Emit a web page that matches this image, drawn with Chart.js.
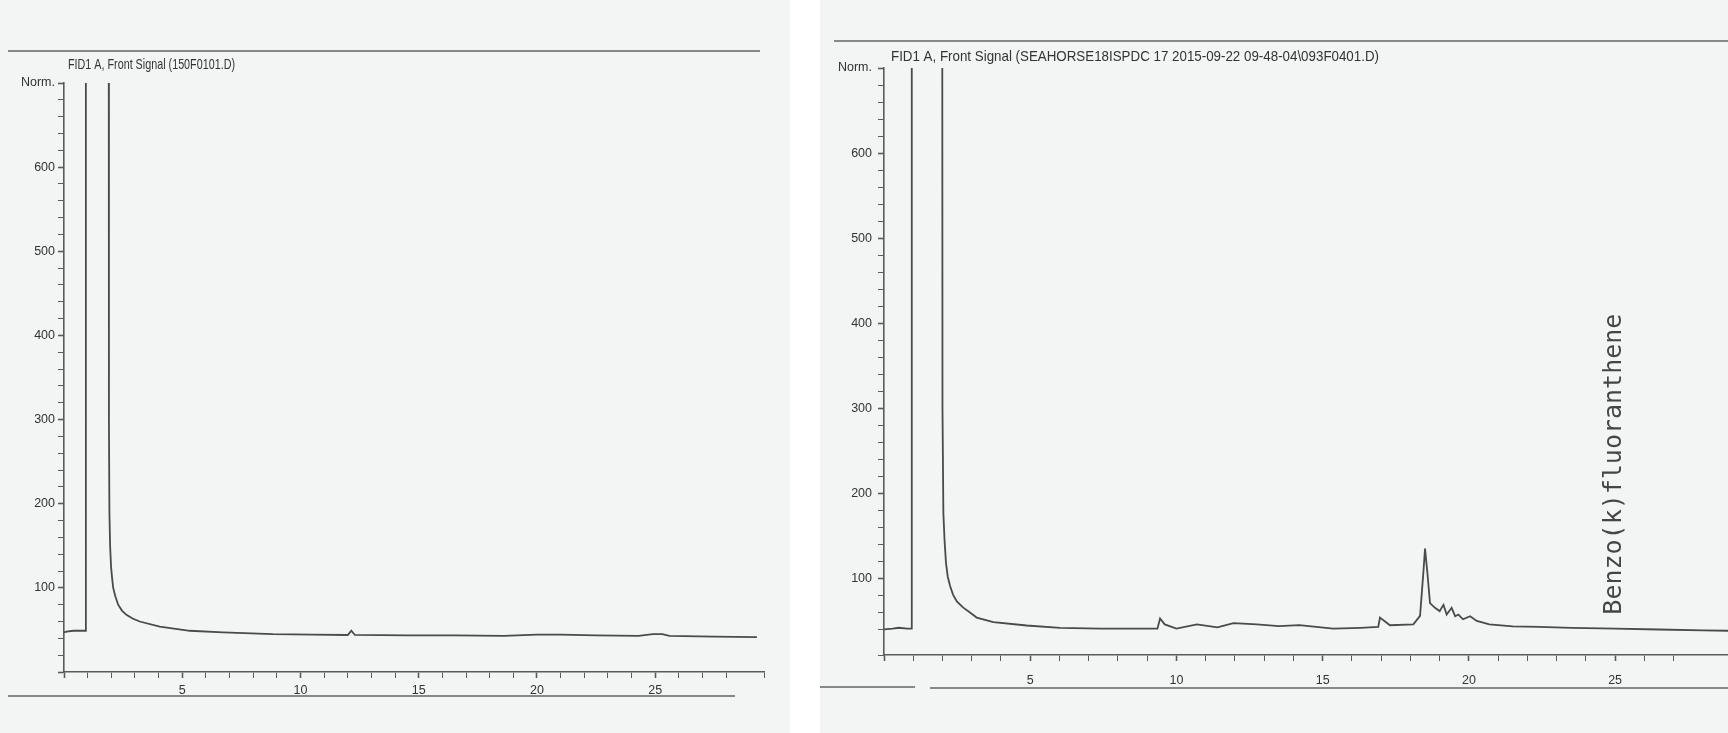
<!DOCTYPE html>
<html>
<head>
<meta charset="utf-8">
<script src="https://cdn.jsdelivr.net/npm/chart.js@4.4.1/dist/chart.umd.min.js"></script>
<style>
    html, body { margin: 0; padding: 0; background: #ffffff; }
    body { width: 1728px; height: 733px; position: relative; overflow: hidden; }
    .panel { position: absolute; top: 0; height: 733px; background: #f3f4f4; }
    #leftPanel { left: 0; width: 790px; }
    #rightPanel { left: 820px; width: 908px; }
    .panel canvas { position: absolute; left: 0; top: 0; }
    .rule { position: absolute; height: 2px; background: #85898a; }
</style>
</head>
<body>
<div class="panel" id="leftPanel">
    <div class="rule" style="left:8px; width:752px; top:50px;"></div>
    <div class="rule" style="left:8px; width:727px; top:695px;"></div>
    <canvas id="leftChart" width="790" height="733"></canvas>
</div>
<div class="panel" id="rightPanel">
    <div class="rule" style="left:14px; width:894px; top:40px;"></div>
    <div class="rule" style="left:0px; width:95px; top:686px;"></div>
    <div class="rule" style="left:110px; width:798px; top:687px;"></div>
    <canvas id="rightChart" width="908" height="733"></canvas>
</div>
<script>
// chromatogram 1 (blank) - retention time (min) vs signal (norm.)
const leftTime   = [0.0, 0.1, 0.4, 0.7, 0.9, 0.92, 0.93, 1.88, 1.90, 1.92, 1.95, 1.99, 2.04, 2.08, 2.17, 2.29, 2.45, 2.64, 2.9, 3.2, 4.05, 5.32, 6.72, 8.83, 10.5, 12.0, 12.15, 12.3, 14.5, 16.5, 18.6, 20.0, 21.0, 22.5, 24.3, 24.9, 25.3, 25.6, 27.5, 29.3];
const leftSignal = [47, 48, 49, 49, 49, 49, 1500, 1500, 300, 190, 150, 125, 110, 100, 90, 80, 73, 68, 63.5, 60, 54, 49, 47, 45, 44.5, 44, 49, 44, 43.5, 43.5, 43, 44.5, 44.5, 43.5, 43, 45, 45, 43, 42, 41.5];

// chromatogram 2 (sample)
const rightTime   = [0.0, 0.3, 0.5, 0.8, 0.94, 0.95, 1.98, 2.0, 2.03, 2.07, 2.12, 2.18, 2.26, 2.36, 2.49, 2.7, 2.94, 3.17, 3.74, 4.88, 6.02, 7.39, 8.5, 9.35, 9.44, 9.6, 10.0, 10.7, 11.4, 11.95, 12.75, 13.5, 14.2, 15.36, 16.3, 16.9, 16.96, 17.3, 18.1, 18.33, 18.45, 18.5, 18.58, 18.67, 18.84, 19.0, 19.13, 19.24, 19.41, 19.53, 19.64, 19.8, 20.04, 20.27, 20.7, 21.5, 22.4, 23.5, 25.0, 26.5, 28.0, 28.9];
const rightSignal = [40, 41, 42, 41, 41, 1500, 1500, 300, 177, 145, 118, 102, 91, 81, 73, 66, 60, 54, 48.6, 44.7, 42, 41, 41, 41, 53, 46, 41, 46, 42.5, 47.5, 46, 44, 45, 41, 42, 43, 54, 45, 46, 56, 110, 135, 107, 71, 65.5, 61.6, 69, 57.6, 65.5, 55.6, 57.6, 52, 55.6, 50, 46, 43.7, 43, 42, 41, 40, 39, 38.5];

const leftTitle = "FID1 A, Front Signal (150F0101.D)";
const rightTitle = "FID1 A, Front Signal (SEAHORSE18ISPDC 17 2015-09-22 09-48-04\\093F0401.D)";

// peak annotations on the sample run
const peakNames = ["Benzo(k)fluoranthene"];
const peakTimes = [25.0];
const peakLevels = [41];

const tickFont = "'Liberation Sans', Arial, sans-serif";
const ink = "#4a4a4a";

// draws the printout header and the rotated compound names
const printTextPlugin = {
    id: "printText",
    afterDraw(chart, args, opts) {
        const ctx = chart.ctx;
        const area = chart.chartArea;

        ctx.save();
        ctx.fillStyle = "#333";
        ctx.font = opts.titleFont;
        ctx.textBaseline = "middle";
        const w = ctx.measureText(opts.title).width;
        ctx.translate(area.left + opts.titleDx, area.top + opts.titleDy);
        ctx.scale(opts.titleWidth / w, 1);
        ctx.fillText(opts.title, 0, 0);
        ctx.restore();

        (opts.peaks || []).forEach(p => {
            const x = chart.scales.x.getPixelForValue(p.time);
            const y = chart.scales.y.getPixelForValue(p.level);
            ctx.save();
            ctx.fillStyle = "#454545";
            ctx.font = "24px 'DejaVu Sans Mono', 'Liberation Mono', monospace";
            ctx.textBaseline = "middle";
            ctx.textAlign = "left";
            const len = ctx.measureText(p.name).width;
            ctx.translate(x, y - 14);
            ctx.rotate(-Math.PI / 2);
            ctx.scale(301 / len, 1);
            ctx.fillText(p.name, 0, 0);
            ctx.restore();
        });
    }
};

function makeChart(canvasId, time, signal, cfg) {
    const ctx = document.getElementById(canvasId).getContext("2d");
    return new Chart(ctx, {
        type: "line",
        data: {
            datasets: [{
                data: time.map((t, i) => ({ x: t, y: signal[i] })),
                borderColor: ink,
                borderWidth: 1.8,
                pointRadius: 0,
                tension: 0,
                fill: false
            }]
        },
        options: {
            responsive: false,
            animation: false,
            layout: { padding: cfg.padding },
            plugins: {
                legend: { display: false },
                tooltip: { enabled: false },
                printText: cfg.text
            },
            scales: {
                x: {
                    type: "linear",
                    min: 0,
                    max: cfg.xMax,
                    afterFit: (scale) => {
                        scale.height = 30;
                        scale.paddingLeft = 0;
                        scale.paddingRight = 0;
                    },
                    border: { color: "#5a5a5a", width: 1.6 },
                    grid: {
                        drawOnChartArea: false,
                        tickLength: 6,
                        tickColor: "#5a5a5a",
                        tickWidth: (c) => (c.tick && c.tick.value % 5 === 0 ? 1.6 : 1)
                    },
                    ticks: {
                        stepSize: 1,
                        autoSkip: false,
                        maxRotation: 0,
                        padding: cfg.xPad,
                        color: "#333",
                        font: { family: tickFont, size: 12.5 },
                        callback: (v) => (v > 0 && v % 5 === 0 ? String(v) : "")
                    }
                },
                y: {
                    min: cfg.yMin,
                    max: 700,
                    afterFit: (scale) => { scale.width = 64; },
                    border: { color: "#5a5a5a", width: 1.6 },
                    grid: {
                        drawOnChartArea: false,
                        tickLength: 6,
                        tickColor: "#5a5a5a",
                        tickWidth: (c) => (c.tick && c.tick.value % 100 === 0 ? 1.6 : 1)
                    },
                    ticks: {
                        stepSize: 20,
                        autoSkip: false,
                        padding: cfg.yPad,
                        color: "#333",
                        font: { family: tickFont, size: 12.5 },
                        callback: (v) => {
                            if (v === 700) return "Norm.";
                            return v > 0 && v % 100 === 0 ? String(v) : "";
                        }
                    }
                }
            }
        },
        plugins: [printTextPlugin]
    });
}

makeChart("leftChart", leftTime, leftSignal, {
    padding: { left: 0, right: 26, top: 83, bottom: 31 },
    xMax: 29.6,
    yMin: 0,
    xPad: 5,
    yPad: 3,
    text: {
        title: leftTitle,
        titleFont: "15px " + tickFont,
        titleWidth: 167,
        titleDx: 4,
        titleDy: -18,
        peaks: []
    }
});

makeChart("rightChart", rightTime, rightSignal, {
    padding: { left: 0, right: 0, top: 68, bottom: 48 },
    xMax: 28.86,
    yMin: 10,
    xPad: 12,
    yPad: 6,
    text: {
        title: rightTitle,
        titleFont: "15px " + tickFont,
        titleWidth: 488,
        titleDx: 7,
        titleDy: -11,
        peaks: peakNames.map((n, i) => ({ name: n, time: peakTimes[i], level: peakLevels[i] }))
    }
});
</script>
</body>
</html>
